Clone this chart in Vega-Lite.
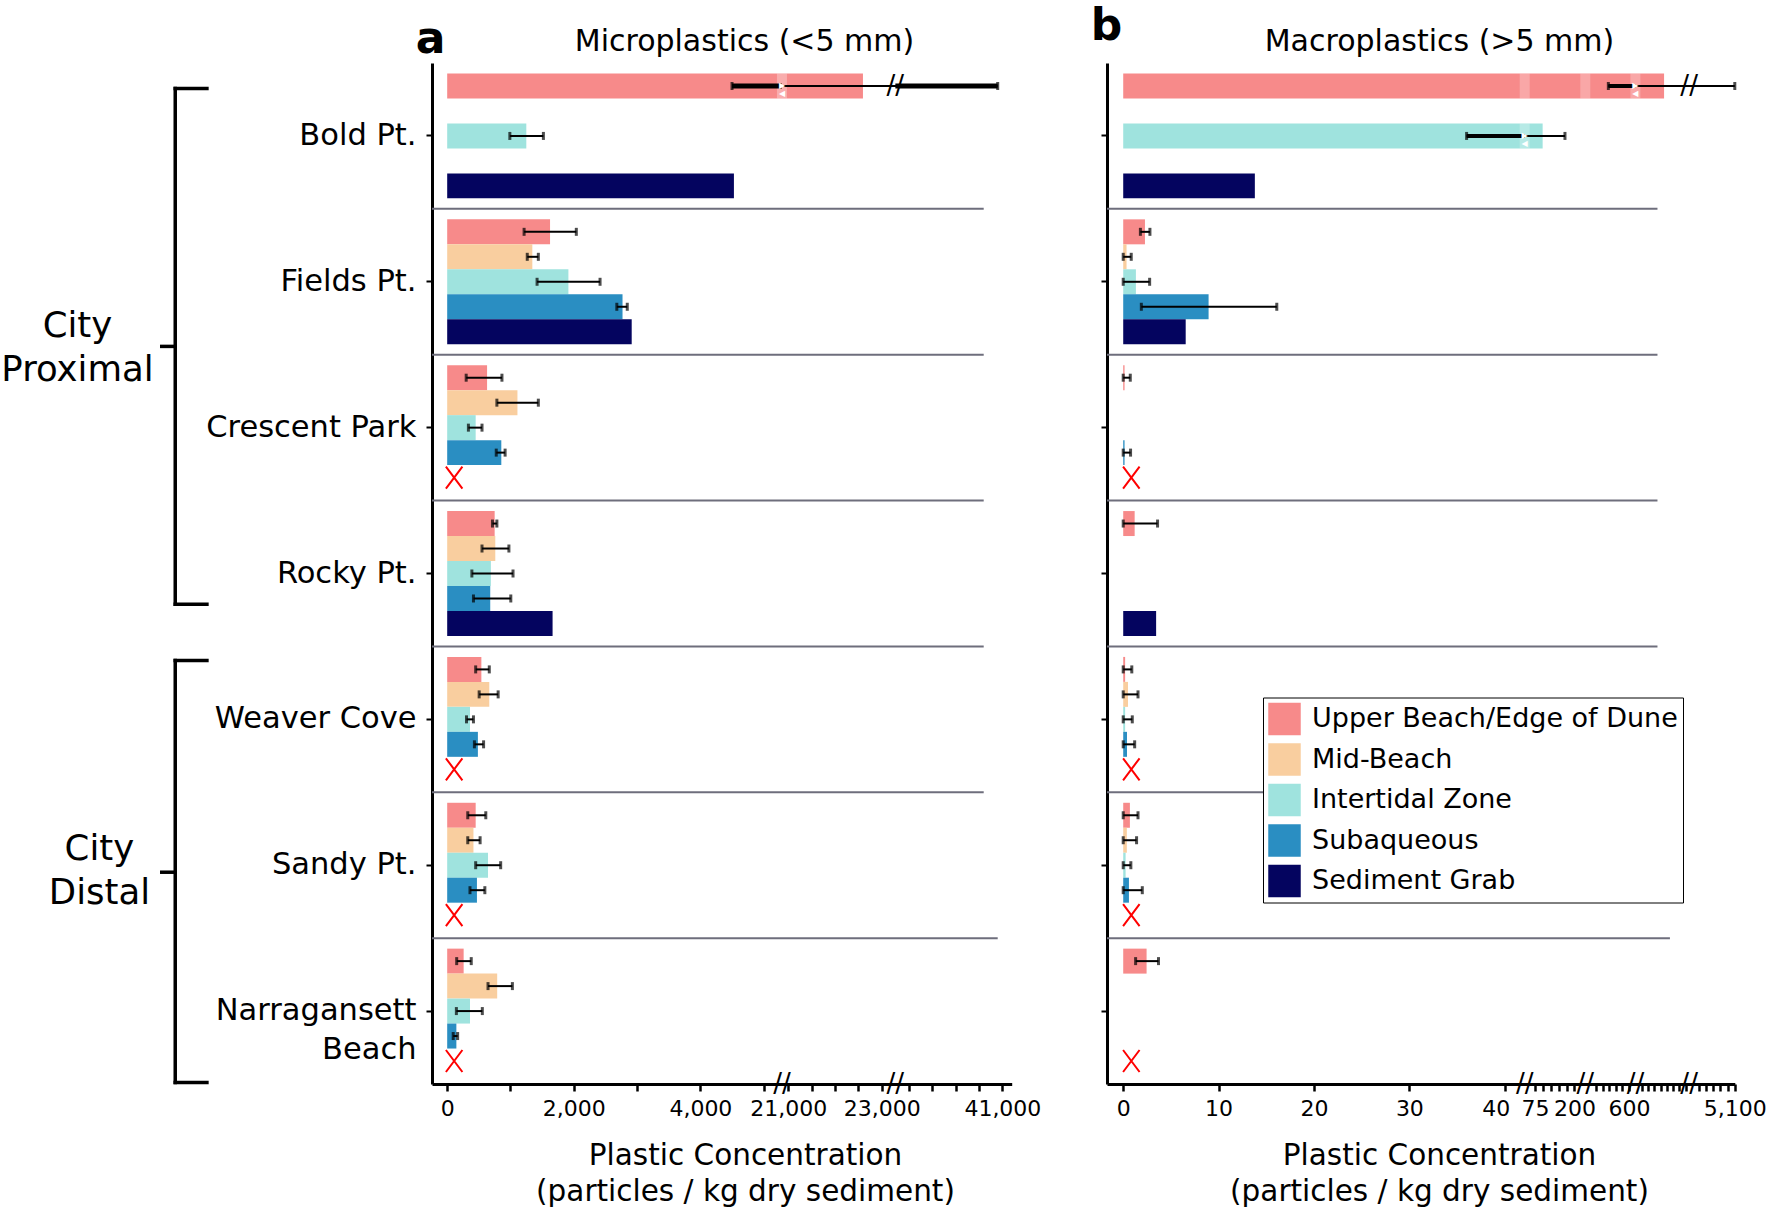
{
  "$schema": "https://vega.github.io/schema/vega-lite/v6.json",
  "background": "white",
  "padding": {"left": 0, "top": 4, "right": 10, "bottom": 4},
  "bounds": "flush",
  "spacing": 95,
  "config": {
    "font": "DejaVu Sans",
    "view": {"stroke": null},
    "axis": {"domainColor": "black", "tickColor": "black", "labelColor": "black", "titleColor": "black", "grid": false, "labelFont": "DejaVu Sans", "titleFont": "DejaVu Sans"},
    "legend": {"labelFont": "DejaVu Sans", "labelColor": "black"},
    "text": {"font": "DejaVu Sans"}
  },
  "resolve": {"scale": {"x": "independent", "y": "independent", "color": "independent"}, "axis": {"x": "independent", "y": "independent"}, "legend": {"color": "independent"}},
  "datasets": {
    "micro": [
      {"site": "Bold Pt.", "zone": "Upper Beach/Edge of Dune", "value": 22600, "low": 4500, "high": 40900},
      {"site": "Bold Pt.", "zone": "Intertidal Zone", "value": 1250, "low": 990, "high": 1520},
      {"site": "Bold Pt.", "zone": "Sediment Grab", "value": 4530, "low": null, "high": null},
      {"site": "Fields Pt.", "zone": "Upper Beach/Edge of Dune", "value": 1625, "low": 1215, "high": 2040},
      {"site": "Fields Pt.", "zone": "Mid-Beach", "value": 1345, "low": 1265, "high": 1440},
      {"site": "Fields Pt.", "zone": "Intertidal Zone", "value": 1915, "low": 1420, "high": 2415},
      {"site": "Fields Pt.", "zone": "Subaqueous", "value": 2770, "low": 2680, "high": 2845},
      {"site": "Fields Pt.", "zone": "Sediment Grab", "value": 2915, "low": null, "high": null},
      {"site": "Crescent Park", "zone": "Upper Beach/Edge of Dune", "value": 630, "low": 300, "high": 865},
      {"site": "Crescent Park", "zone": "Mid-Beach", "value": 1110, "low": 785, "high": 1440},
      {"site": "Crescent Park", "zone": "Intertidal Zone", "value": 450, "low": 335, "high": 550},
      {"site": "Crescent Park", "zone": "Subaqueous", "value": 855, "low": 775, "high": 915},
      {"site": "Rocky Pt.", "zone": "Upper Beach/Edge of Dune", "value": 750, "low": 715, "high": 785},
      {"site": "Rocky Pt.", "zone": "Mid-Beach", "value": 760, "low": 550, "high": 975},
      {"site": "Rocky Pt.", "zone": "Intertidal Zone", "value": 690, "low": 390, "high": 1040},
      {"site": "Rocky Pt.", "zone": "Subaqueous", "value": 680, "low": 415, "high": 1005},
      {"site": "Rocky Pt.", "zone": "Sediment Grab", "value": 1665, "low": null, "high": null},
      {"site": "Weaver Cove", "zone": "Upper Beach/Edge of Dune", "value": 540, "low": 450, "high": 665},
      {"site": "Weaver Cove", "zone": "Mid-Beach", "value": 665, "low": 505, "high": 805},
      {"site": "Weaver Cove", "zone": "Intertidal Zone", "value": 360, "low": 305, "high": 415},
      {"site": "Weaver Cove", "zone": "Subaqueous", "value": 485, "low": 430, "high": 575},
      {"site": "Sandy Pt.", "zone": "Upper Beach/Edge of Dune", "value": 450, "low": 325, "high": 610},
      {"site": "Sandy Pt.", "zone": "Mid-Beach", "value": 415, "low": 325, "high": 520},
      {"site": "Sandy Pt.", "zone": "Intertidal Zone", "value": 645, "low": 450, "high": 845},
      {"site": "Sandy Pt.", "zone": "Subaqueous", "value": 470, "low": 360, "high": 595},
      {"site": "Narragansett Beach", "zone": "Upper Beach/Edge of Dune", "value": 260, "low": 150, "high": 380},
      {"site": "Narragansett Beach", "zone": "Mid-Beach", "value": 790, "low": 645, "high": 1030},
      {"site": "Narragansett Beach", "zone": "Intertidal Zone", "value": 360, "low": 145, "high": 555},
      {"site": "Narragansett Beach", "zone": "Subaqueous", "value": 145, "low": 95, "high": 165}
    ],
    "macro": [
      {"site": "Bold Pt.", "zone": "Upper Beach/Edge of Dune", "value": 2480, "low": 380, "high": 5100},
      {"site": "Bold Pt.", "zone": "Intertidal Zone", "value": 99, "low": 36, "high": 170},
      {"site": "Bold Pt.", "zone": "Sediment Grab", "value": 13.8, "low": null, "high": null},
      {"site": "Fields Pt.", "zone": "Upper Beach/Edge of Dune", "value": 2.28, "low": 1.8, "high": 2.8},
      {"site": "Fields Pt.", "zone": "Mid-Beach", "value": 0.35, "low": 0, "high": 0.84},
      {"site": "Fields Pt.", "zone": "Intertidal Zone", "value": 1.33, "low": 0, "high": 2.77},
      {"site": "Fields Pt.", "zone": "Subaqueous", "value": 8.95, "low": 1.9, "high": 16.1},
      {"site": "Fields Pt.", "zone": "Sediment Grab", "value": 6.55, "low": null, "high": null},
      {"site": "Crescent Park", "zone": "Upper Beach/Edge of Dune", "value": 0.14, "low": 0, "high": 0.74},
      {"site": "Crescent Park", "zone": "Subaqueous", "value": 0.14, "low": 0, "high": 0.77},
      {"site": "Rocky Pt.", "zone": "Upper Beach/Edge of Dune", "value": 1.2, "low": 0, "high": 3.6},
      {"site": "Rocky Pt.", "zone": "Sediment Grab", "value": 3.45, "low": null, "high": null},
      {"site": "Weaver Cove", "zone": "Upper Beach/Edge of Dune", "value": 0.2, "low": 0, "high": 0.9},
      {"site": "Weaver Cove", "zone": "Mid-Beach", "value": 0.5, "low": 0, "high": 1.55},
      {"site": "Weaver Cove", "zone": "Intertidal Zone", "value": 0.2, "low": 0, "high": 0.95},
      {"site": "Weaver Cove", "zone": "Subaqueous", "value": 0.4, "low": 0, "high": 1.2},
      {"site": "Sandy Pt.", "zone": "Upper Beach/Edge of Dune", "value": 0.7, "low": 0, "high": 1.55},
      {"site": "Sandy Pt.", "zone": "Mid-Beach", "value": 0.38, "low": 0, "high": 1.4},
      {"site": "Sandy Pt.", "zone": "Intertidal Zone", "value": 0.25, "low": 0, "high": 0.8},
      {"site": "Sandy Pt.", "zone": "Subaqueous", "value": 0.6, "low": 0, "high": 2.0},
      {"site": "Narragansett Beach", "zone": "Upper Beach/Edge of Dune", "value": 2.45, "low": 1.3, "high": 3.7}
    ],
    "missing": [
      {"site": "Crescent Park", "zone": "Sediment Grab"},
      {"site": "Weaver Cove", "zone": "Sediment Grab"},
      {"site": "Sandy Pt.", "zone": "Sediment Grab"},
      {"site": "Narragansett Beach", "zone": "Sediment Grab"}
    ]
  },
  "hconcat": [
    {
      "width": 337,
      "height": 1021,
      "layer": [
        {
          "data": {"values": [
            {"x1": 52, "x2": 52, "y1": 0.175, "y2": 3.71},
            {"x1": 52, "x2": 61.4, "y1": 0.175, "y2": 0.175},
            {"x1": 52, "x2": 61.4, "y1": 3.71, "y2": 3.71},
            {"x1": 48, "x2": 52, "y1": 1.943, "y2": 1.943},
            {"x1": 52, "x2": 52, "y1": 4.097, "y2": 6.99},
            {"x1": 52, "x2": 61.4, "y1": 4.097, "y2": 4.097},
            {"x1": 52, "x2": 61.4, "y1": 6.99, "y2": 6.99},
            {"x1": 48, "x2": 52, "y1": 5.548, "y2": 5.548}
          ]},
          "mark": {"type": "rule", "color": "black", "strokeWidth": 3.5, "strokeCap": "square"},
          "encoding": {
            "x": {"field": "x1", "type": "quantitative", "scale": {"domain": [0, 100], "nice": false, "zero": false}, "axis": null},
            "x2": {"field": "x2"},
            "y": {"field": "y1", "type": "quantitative", "scale": {"domain": [0, 7], "reverse": true, "nice": false, "zero": false}, "axis": null},
            "y2": {"field": "y2"}
          }
        },
        {
          "data": {"values": [
            {"label": "City Proximal", "x": 23.0, "y": 1.8},
            {"label": "City Distal", "x": 29.5, "y": 5.39}
          ]},
          "mark": {"type": "text", "fontSize": 35.5, "lineBreak": " ", "lineHeight": 44, "align": "center", "baseline": "middle", "color": "black"},
          "encoding": {
            "x": {"field": "x", "type": "quantitative", "scale": {"domain": [0, 100], "nice": false, "zero": false}, "axis": null},
            "y": {"field": "y", "type": "quantitative", "scale": {"domain": [0, 7], "reverse": true, "nice": false, "zero": false}, "axis": null},
            "text": {"field": "label"}
          }
        }
      ]
    },
    {
      "width": 580,
      "height": 1021,
      "resolve": {"axis": {"x": "independent", "y": "independent"}},
      "layer": [
        {
          "data": {"values": [
            {"site": "Fields Pt.", "x1": -240, "x2": 40600},
            {"site": "Crescent Park", "x1": -240, "x2": 40600},
            {"site": "Rocky Pt.", "x1": -240, "x2": 40600},
            {"site": "Weaver Cove", "x1": -240, "x2": 40600},
            {"site": "Sandy Pt.", "x1": -240, "x2": 40600},
            {"site": "Narragansett Beach", "x1": -240, "x2": 40900}
          ]},
          "mark": {"type": "rule", "color": "#6e6e7c", "strokeWidth": 2},
          "encoding": {
            "x": {"field": "x1", "type": "quantitative", "scale": {"type": "linear", "domain": [-240, 5100, 20900, 23100, 38900, 41200], "range": [0, 338, 351.6, 454.3, 472.4, 579.7], "zero": false, "nice": false}, "axis": null},
            "x2": {"field": "x2"},
            "y": {"field": "site", "type": "nominal", "bandPosition": 0, "scale": {"domain": ["Bold Pt.", "Fields Pt.", "Crescent Park", "Rocky Pt.", "Weaver Cove", "Sandy Pt.", "Narragansett Beach"], "paddingInner": 0, "paddingOuter": 0}, "axis": null}
          }
        },
        {
          "data": {"name": "micro"},
          "mark": {"type": "bar"},
          "encoding": {
            "x": {"field": "value", "type": "quantitative", "scale": {"type": "linear", "domain": [-240, 5100, 20900, 23100, 38900, 41200], "range": [0, 338, 351.6, 454.3, 472.4, 579.7], "zero": false, "nice": false},
              "axis": {"orient": "bottom", "values": [0, 1000, 2000, 3000, 4000, 5000, 21000, 21500, 22000, 22500, 23000, 39000, 39500, 40000, 40500, 41000],
                "labelExpr": "indexof([0,2000,4000,21000,23000,41000], datum.value) >= 0 ? format(datum.value, ',') : ''",
                "labelFontSize": 22, "labelFlush": false, "labelOverlap": false, "tickSize": 7, "tickWidth": 2.5, "domainWidth": 3, "labelPadding": 7,
                "title": ["Plastic Concentration", "(particles / kg dry sediment)"], "titleFontSize": 29.5, "titleFontWeight": "normal", "titleX": 313, "titleY": 80, "titleAlign": "center", "titleBaseline": "alphabetic", "titleLineHeight": 36.5}},
            "x2": {"datum": 0},
            "y": {"field": "site", "type": "nominal", "scale": {"domain": ["Bold Pt.", "Fields Pt.", "Crescent Park", "Rocky Pt.", "Weaver Cove", "Sandy Pt.", "Narragansett Beach"], "paddingInner": 0, "paddingOuter": 0},
              "axis": {"orient": "left", "title": "a", "titleFontSize": 44, "titleFontWeight": "bold", "titleAngle": 0, "titleAlign": "center", "titleBaseline": "alphabetic", "titleX": -2, "titleY": -11,
                "labelFontSize": 30.5, "labelPadding": 10, "tickSize": 6, "tickWidth": 2, "domainWidth": 3, "labelLineHeight": 39, "labelLimit": 400,
                "labelExpr": "datum.value == 'Narragansett Beach' ? ['Narragansett', 'Beach'] : datum.label"}},
            "yOffset": {"field": "zone", "type": "nominal", "scale": {"domain": ["Upper Beach/Edge of Dune", "Mid-Beach", "Intertidal Zone", "Subaqueous", "Sediment Grab"], "paddingInner": 0, "paddingOuter": 0.42}},
            "color": {"field": "zone", "type": "nominal", "scale": {"domain": ["Upper Beach/Edge of Dune", "Mid-Beach", "Intertidal Zone", "Subaqueous", "Sediment Grab"], "range": ["#F78A8A", "#F9CE9F", "#9FE3DE", "#2A8EC2", "#04045F"]}, "legend": null}
          }
        },
        {
          "data": {"values": [
            {"site": "Bold Pt.", "zone": "Upper Beach/Edge of Dune", "x": 19000}
          ]},
          "mark": {"type": "tick", "color": "white", "opacity": 0.3, "thickness": 10, "size": 25},
          "encoding": {
            "x": {"field": "x", "type": "quantitative", "scale": {"type": "linear", "domain": [-240, 5100, 20900, 23100, 38900, 41200], "range": [0, 338, 351.6, 454.3, 472.4, 579.7], "zero": false, "nice": false}, "axis": null},
            "y": {"field": "site", "type": "nominal", "scale": {"domain": ["Bold Pt.", "Fields Pt.", "Crescent Park", "Rocky Pt.", "Weaver Cove", "Sandy Pt.", "Narragansett Beach"], "paddingInner": 0, "paddingOuter": 0}, "axis": null},
            "yOffset": {"field": "zone", "type": "nominal", "scale": {"domain": ["Upper Beach/Edge of Dune", "Mid-Beach", "Intertidal Zone", "Subaqueous", "Sediment Grab"], "paddingInner": 0, "paddingOuter": 0.42}}
          }
        },
        {
          "data": {"name": "micro"},
          "transform": [{"filter": "isValid(datum.low)"}],
          "mark": {"type": "rule", "color": "black", "strokeWidth": 2},
          "encoding": {
            "x": {"field": "low", "type": "quantitative", "scale": {"type": "linear", "domain": [-240, 5100, 20900, 23100, 38900, 41200], "range": [0, 338, 351.6, 454.3, 472.4, 579.7], "zero": false, "nice": false},
              "axis": {"orient": "top", "title": "Microplastics (<5 mm)", "labels": false, "ticks": false, "domain": false, "grid": false, "titleFontSize": 30, "titleFontWeight": "normal", "titleX": 312, "titleY": -13, "titleAlign": "center", "titleBaseline": "alphabetic"}},
            "x2": {"field": "high"},
            "y": {"field": "site", "type": "nominal", "scale": {"domain": ["Bold Pt.", "Fields Pt.", "Crescent Park", "Rocky Pt.", "Weaver Cove", "Sandy Pt.", "Narragansett Beach"], "paddingInner": 0, "paddingOuter": 0}, "axis": null},
            "yOffset": {"field": "zone", "type": "nominal", "scale": {"domain": ["Upper Beach/Edge of Dune", "Mid-Beach", "Intertidal Zone", "Subaqueous", "Sediment Grab"], "paddingInner": 0, "paddingOuter": 0.42}}
          }
        },
        {
          "data": {"values": [
            {"site": "Bold Pt.", "zone": "Upper Beach/Edge of Dune", "from": 4500, "to": 19000},
            {"site": "Bold Pt.", "zone": "Upper Beach/Edge of Dune", "from": 31000, "to": 40900}
          ]},
          "mark": {"type": "rule", "color": "black", "strokeWidth": 5},
          "encoding": {
            "x": {"field": "from", "type": "quantitative", "scale": {"type": "linear", "domain": [-240, 5100, 20900, 23100, 38900, 41200], "range": [0, 338, 351.6, 454.3, 472.4, 579.7], "zero": false, "nice": false}, "axis": null},
            "x2": {"field": "to"},
            "y": {"field": "site", "type": "nominal", "scale": {"domain": ["Bold Pt.", "Fields Pt.", "Crescent Park", "Rocky Pt.", "Weaver Cove", "Sandy Pt.", "Narragansett Beach"], "paddingInner": 0, "paddingOuter": 0}, "axis": null},
            "yOffset": {"field": "zone", "type": "nominal", "scale": {"domain": ["Upper Beach/Edge of Dune", "Mid-Beach", "Intertidal Zone", "Subaqueous", "Sediment Grab"], "paddingInner": 0, "paddingOuter": 0.42}}
          }
        },
        {
          "data": {"name": "micro"},
          "transform": [{"filter": "isValid(datum.low)"}, {"fold": ["low", "high"], "as": ["end", "pos"]}],
          "mark": {"type": "tick", "color": "black", "thickness": 3, "size": 8},
          "encoding": {
            "x": {"field": "pos", "type": "quantitative", "scale": {"type": "linear", "domain": [-240, 5100, 20900, 23100, 38900, 41200], "range": [0, 338, 351.6, 454.3, 472.4, 579.7], "zero": false, "nice": false}, "axis": null},
            "y": {"field": "site", "type": "nominal", "scale": {"domain": ["Bold Pt.", "Fields Pt.", "Crescent Park", "Rocky Pt.", "Weaver Cove", "Sandy Pt.", "Narragansett Beach"], "paddingInner": 0, "paddingOuter": 0}, "axis": null},
            "yOffset": {"field": "zone", "type": "nominal", "scale": {"domain": ["Upper Beach/Edge of Dune", "Mid-Beach", "Intertidal Zone", "Subaqueous", "Sediment Grab"], "paddingInner": 0, "paddingOuter": 0.42}}
          }
        },
        {
          "data": {"values": [
            {"site": "Bold Pt.", "zone": "Upper Beach/Edge of Dune", "x": 19000}
          ]},
          "mark": {"type": "text", "text": "▶\n◀\n▶", "lineBreak": "\n", "fontSize": 8, "lineHeight": 8, "color": "white", "align": "center", "baseline": "middle"},
          "encoding": {
            "x": {"field": "x", "type": "quantitative", "scale": {"type": "linear", "domain": [-240, 5100, 20900, 23100, 38900, 41200], "range": [0, 338, 351.6, 454.3, 472.4, 579.7], "zero": false, "nice": false}, "axis": null},
            "y": {"field": "site", "type": "nominal", "scale": {"domain": ["Bold Pt.", "Fields Pt.", "Crescent Park", "Rocky Pt.", "Weaver Cove", "Sandy Pt.", "Narragansett Beach"], "paddingInner": 0, "paddingOuter": 0}, "axis": null},
            "yOffset": {"field": "zone", "type": "nominal", "scale": {"domain": ["Upper Beach/Edge of Dune", "Mid-Beach", "Intertidal Zone", "Subaqueous", "Sediment Grab"], "paddingInner": 0, "paddingOuter": 0.42}}
          }
        },
        {
          "data": {"values": [
            {"site": "Bold Pt.", "zone": "Upper Beach/Edge of Dune", "x": 31000}
          ]},
          "mark": {"type": "text", "text": "//", "fontSize": 26, "color": "black", "align": "center", "baseline": "middle"},
          "encoding": {
            "x": {"field": "x", "type": "quantitative", "scale": {"type": "linear", "domain": [-240, 5100, 20900, 23100, 38900, 41200], "range": [0, 338, 351.6, 454.3, 472.4, 579.7], "zero": false, "nice": false}, "axis": null},
            "y": {"field": "site", "type": "nominal", "scale": {"domain": ["Bold Pt.", "Fields Pt.", "Crescent Park", "Rocky Pt.", "Weaver Cove", "Sandy Pt.", "Narragansett Beach"], "paddingInner": 0, "paddingOuter": 0}, "axis": null},
            "yOffset": {"field": "zone", "type": "nominal", "scale": {"domain": ["Upper Beach/Edge of Dune", "Mid-Beach", "Intertidal Zone", "Subaqueous", "Sediment Grab"], "paddingInner": 0, "paddingOuter": 0.42}}
          }
        },
        {
          "data": {"name": "missing"},
          "mark": {"type": "point", "shape": "M-0.75,-1L0.75,1M0.75,-1L-0.75,1", "size": 484, "filled": false, "stroke": "#ff0000", "strokeWidth": 2, "opacity": 1},
          "encoding": {
            "x": {"datum": 110, "type": "quantitative", "scale": {"type": "linear", "domain": [-240, 5100, 20900, 23100, 38900, 41200], "range": [0, 338, 351.6, 454.3, 472.4, 579.7], "zero": false, "nice": false}, "axis": null},
            "y": {"field": "site", "type": "nominal", "scale": {"domain": ["Bold Pt.", "Fields Pt.", "Crescent Park", "Rocky Pt.", "Weaver Cove", "Sandy Pt.", "Narragansett Beach"], "paddingInner": 0, "paddingOuter": 0}, "axis": null},
            "yOffset": {"field": "zone", "type": "nominal", "scale": {"domain": ["Upper Beach/Edge of Dune", "Mid-Beach", "Intertidal Zone", "Subaqueous", "Sediment Grab"], "paddingInner": 0, "paddingOuter": 0.42}}
          }
        },
        {
          "data": {"values": [
            {"site": "Narragansett Beach", "x": 19000},
            {"site": "Narragansett Beach", "x": 31000}
          ]},
          "mark": {"type": "text", "text": "//", "fontSize": 26, "color": "black", "align": "center", "baseline": "middle"},
          "encoding": {
            "x": {"field": "x", "type": "quantitative", "scale": {"type": "linear", "domain": [-240, 5100, 20900, 23100, 38900, 41200], "range": [0, 338, 351.6, 454.3, 472.4, 579.7], "zero": false, "nice": false}, "axis": null},
            "y": {"field": "site", "type": "nominal", "bandPosition": 1, "scale": {"domain": ["Bold Pt.", "Fields Pt.", "Crescent Park", "Rocky Pt.", "Weaver Cove", "Sandy Pt.", "Narragansett Beach"], "paddingInner": 0, "paddingOuter": 0}, "axis": null}
          }
        }
      ]
    },
    {
      "width": 629,
      "height": 1021,
      "resolve": {"axis": {"x": "independent", "y": "independent"}},
      "layer": [
        {
          "data": {"values": [
            {"site": "Fields Pt.", "x1": -1.7, "x2": 1950},
            {"site": "Crescent Park", "x1": -1.7, "x2": 1950},
            {"site": "Rocky Pt.", "x1": -1.7, "x2": 1950},
            {"site": "Weaver Cove", "x1": -1.7, "x2": 1950},
            {"site": "Sandy Pt.", "x1": -1.7, "x2": 1950},
            {"site": "Narragansett Beach", "x1": -1.7, "x2": 2950}
          ]},
          "mark": {"type": "rule", "color": "#6e6e7c", "strokeWidth": 2},
          "encoding": {
            "x": {"field": "x1", "type": "quantitative", "scale": {"type": "linear", "domain": [-1.7, 41, 75, 200, 250, 600, 700, 4200, 4700, 5100], "range": [0, 407.3, 428.1, 467.4, 489.2, 521.9, 534.9, 578.5, 591.5, 627.8], "zero": false, "nice": false}, "axis": null},
            "x2": {"field": "x2"},
            "y": {"field": "site", "type": "nominal", "bandPosition": 0, "scale": {"domain": ["Bold Pt.", "Fields Pt.", "Crescent Park", "Rocky Pt.", "Weaver Cove", "Sandy Pt.", "Narragansett Beach"], "paddingInner": 0, "paddingOuter": 0}, "axis": null}
          }
        },
        {
          "data": {"name": "macro"},
          "mark": {"type": "bar"},
          "encoding": {
            "x": {"field": "value", "type": "quantitative", "scale": {"type": "linear", "domain": [-1.7, 41, 75, 200, 250, 600, 700, 4200, 4700, 5100], "range": [0, 407.3, 428.1, 467.4, 489.2, 521.9, 534.9, 578.5, 591.5, 627.8], "zero": false, "nice": false},
              "axis": {"orient": "bottom", "values": [0, 10, 20, 30, 40, 75, 100, 125, 150, 175, 200, 250, 320, 390, 460, 530, 600, 700, 1200, 1700, 2200, 2700, 3200, 3700, 4200, 4700, 4780, 4860, 4940, 5020, 5100],
                "labelExpr": "indexof([0,10,20,30,40,75,200,600,5100], datum.value) >= 0 ? format(datum.value, ',') : ''",
                "labelOffset": {"condition": {"test": "datum.value == 40", "value": -9}, "value": 0},
                "labelFontSize": 22, "labelFlush": false, "labelOverlap": false, "tickSize": 7, "tickWidth": 2.5, "domainWidth": 3, "labelPadding": 7,
                "title": ["Plastic Concentration", "(particles / kg dry sediment)"], "titleFontSize": 29.5, "titleFontWeight": "normal", "titleX": 332, "titleY": 80, "titleAlign": "center", "titleBaseline": "alphabetic", "titleLineHeight": 36.5}},
            "x2": {"datum": 0},
            "y": {"field": "site", "type": "nominal", "scale": {"domain": ["Bold Pt.", "Fields Pt.", "Crescent Park", "Rocky Pt.", "Weaver Cove", "Sandy Pt.", "Narragansett Beach"], "paddingInner": 0, "paddingOuter": 0},
              "axis": {"orient": "left", "title": "b", "titleFontSize": 44, "titleFontWeight": "bold", "titleAngle": 0, "titleAlign": "center", "titleBaseline": "alphabetic", "titleX": -1, "titleY": -24,
                "labels": false, "tickSize": 6, "tickWidth": 2, "domainWidth": 3}},
            "yOffset": {"field": "zone", "type": "nominal", "scale": {"domain": ["Upper Beach/Edge of Dune", "Mid-Beach", "Intertidal Zone", "Subaqueous", "Sediment Grab"], "paddingInner": 0, "paddingOuter": 0.42}},
            "color": {"field": "zone", "type": "nominal", "scale": {"domain": ["Upper Beach/Edge of Dune", "Mid-Beach", "Intertidal Zone", "Subaqueous", "Sediment Grab"], "range": ["#F78A8A", "#F9CE9F", "#9FE3DE", "#2A8EC2", "#04045F"]},
              "legend": {"orient": "none", "legendX": 156, "legendY": 634.5, "title": null, "symbolType": "square", "symbolSize": 1056, "symbolStrokeWidth": 0, "labelFontSize": 27, "labelOffset": 11, "rowPadding": 7.5, "padding": 5, "strokeColor": "black", "fillColor": "white", "labelLimit": 600}}
          }
        },
        {
          "data": {"values": [
            {"site": "Bold Pt.", "zone": "Upper Beach/Edge of Dune", "x": 58},
            {"site": "Bold Pt.", "zone": "Upper Beach/Edge of Dune", "x": 225},
            {"site": "Bold Pt.", "zone": "Upper Beach/Edge of Dune", "x": 650},
            {"site": "Bold Pt.", "zone": "Intertidal Zone", "x": 58}
          ]},
          "mark": {"type": "tick", "color": "white", "opacity": 0.25, "thickness": 10, "size": 25},
          "encoding": {
            "x": {"field": "x", "type": "quantitative", "scale": {"type": "linear", "domain": [-1.7, 41, 75, 200, 250, 600, 700, 4200, 4700, 5100], "range": [0, 407.3, 428.1, 467.4, 489.2, 521.9, 534.9, 578.5, 591.5, 627.8], "zero": false, "nice": false}, "axis": null},
            "y": {"field": "site", "type": "nominal", "scale": {"domain": ["Bold Pt.", "Fields Pt.", "Crescent Park", "Rocky Pt.", "Weaver Cove", "Sandy Pt.", "Narragansett Beach"], "paddingInner": 0, "paddingOuter": 0}, "axis": null},
            "yOffset": {"field": "zone", "type": "nominal", "scale": {"domain": ["Upper Beach/Edge of Dune", "Mid-Beach", "Intertidal Zone", "Subaqueous", "Sediment Grab"], "paddingInner": 0, "paddingOuter": 0.42}}
          }
        },
        {
          "data": {"name": "macro"},
          "transform": [{"filter": "isValid(datum.low)"}],
          "mark": {"type": "rule", "color": "black", "strokeWidth": 2},
          "encoding": {
            "x": {"field": "low", "type": "quantitative", "scale": {"type": "linear", "domain": [-1.7, 41, 75, 200, 250, 600, 700, 4200, 4700, 5100], "range": [0, 407.3, 428.1, 467.4, 489.2, 521.9, 534.9, 578.5, 591.5, 627.8], "zero": false, "nice": false},
              "axis": {"orient": "top", "title": "Macroplastics (>5 mm)", "labels": false, "ticks": false, "domain": false, "grid": false, "titleFontSize": 30, "titleFontWeight": "normal", "titleX": 332, "titleY": -13, "titleAlign": "center", "titleBaseline": "alphabetic"}},
            "x2": {"field": "high"},
            "y": {"field": "site", "type": "nominal", "scale": {"domain": ["Bold Pt.", "Fields Pt.", "Crescent Park", "Rocky Pt.", "Weaver Cove", "Sandy Pt.", "Narragansett Beach"], "paddingInner": 0, "paddingOuter": 0}, "axis": null},
            "yOffset": {"field": "zone", "type": "nominal", "scale": {"domain": ["Upper Beach/Edge of Dune", "Mid-Beach", "Intertidal Zone", "Subaqueous", "Sediment Grab"], "paddingInner": 0, "paddingOuter": 0.42}}
          }
        },
        {
          "data": {"values": [
            {"site": "Bold Pt.", "zone": "Upper Beach/Edge of Dune", "from": 380, "to": 650},
            {"site": "Bold Pt.", "zone": "Intertidal Zone", "from": 36, "to": 58}
          ]},
          "mark": {"type": "rule", "color": "black", "strokeWidth": 4},
          "encoding": {
            "x": {"field": "from", "type": "quantitative", "scale": {"type": "linear", "domain": [-1.7, 41, 75, 200, 250, 600, 700, 4200, 4700, 5100], "range": [0, 407.3, 428.1, 467.4, 489.2, 521.9, 534.9, 578.5, 591.5, 627.8], "zero": false, "nice": false}, "axis": null},
            "x2": {"field": "to"},
            "y": {"field": "site", "type": "nominal", "scale": {"domain": ["Bold Pt.", "Fields Pt.", "Crescent Park", "Rocky Pt.", "Weaver Cove", "Sandy Pt.", "Narragansett Beach"], "paddingInner": 0, "paddingOuter": 0}, "axis": null},
            "yOffset": {"field": "zone", "type": "nominal", "scale": {"domain": ["Upper Beach/Edge of Dune", "Mid-Beach", "Intertidal Zone", "Subaqueous", "Sediment Grab"], "paddingInner": 0, "paddingOuter": 0.42}}
          }
        },
        {
          "data": {"name": "macro"},
          "transform": [{"filter": "isValid(datum.low)"}, {"fold": ["low", "high"], "as": ["end", "pos"]}],
          "mark": {"type": "tick", "color": "black", "thickness": 3, "size": 8},
          "encoding": {
            "x": {"field": "pos", "type": "quantitative", "scale": {"type": "linear", "domain": [-1.7, 41, 75, 200, 250, 600, 700, 4200, 4700, 5100], "range": [0, 407.3, 428.1, 467.4, 489.2, 521.9, 534.9, 578.5, 591.5, 627.8], "zero": false, "nice": false}, "axis": null},
            "y": {"field": "site", "type": "nominal", "scale": {"domain": ["Bold Pt.", "Fields Pt.", "Crescent Park", "Rocky Pt.", "Weaver Cove", "Sandy Pt.", "Narragansett Beach"], "paddingInner": 0, "paddingOuter": 0}, "axis": null},
            "yOffset": {"field": "zone", "type": "nominal", "scale": {"domain": ["Upper Beach/Edge of Dune", "Mid-Beach", "Intertidal Zone", "Subaqueous", "Sediment Grab"], "paddingInner": 0, "paddingOuter": 0.42}}
          }
        },
        {
          "data": {"values": [
            {"site": "Bold Pt.", "zone": "Upper Beach/Edge of Dune", "x": 650},
            {"site": "Bold Pt.", "zone": "Intertidal Zone", "x": 58}
          ]},
          "mark": {"type": "text", "text": "▶\n◀\n▶", "lineBreak": "\n", "fontSize": 8, "lineHeight": 8, "color": "white", "align": "center", "baseline": "middle"},
          "encoding": {
            "x": {"field": "x", "type": "quantitative", "scale": {"type": "linear", "domain": [-1.7, 41, 75, 200, 250, 600, 700, 4200, 4700, 5100], "range": [0, 407.3, 428.1, 467.4, 489.2, 521.9, 534.9, 578.5, 591.5, 627.8], "zero": false, "nice": false}, "axis": null},
            "y": {"field": "site", "type": "nominal", "scale": {"domain": ["Bold Pt.", "Fields Pt.", "Crescent Park", "Rocky Pt.", "Weaver Cove", "Sandy Pt.", "Narragansett Beach"], "paddingInner": 0, "paddingOuter": 0}, "axis": null},
            "yOffset": {"field": "zone", "type": "nominal", "scale": {"domain": ["Upper Beach/Edge of Dune", "Mid-Beach", "Intertidal Zone", "Subaqueous", "Sediment Grab"], "paddingInner": 0, "paddingOuter": 0.42}}
          }
        },
        {
          "data": {"values": [
            {"site": "Bold Pt.", "zone": "Upper Beach/Edge of Dune", "x": 4340}
          ]},
          "mark": {"type": "text", "text": "//", "fontSize": 26, "color": "black", "align": "center", "baseline": "middle"},
          "encoding": {
            "x": {"field": "x", "type": "quantitative", "scale": {"type": "linear", "domain": [-1.7, 41, 75, 200, 250, 600, 700, 4200, 4700, 5100], "range": [0, 407.3, 428.1, 467.4, 489.2, 521.9, 534.9, 578.5, 591.5, 627.8], "zero": false, "nice": false}, "axis": null},
            "y": {"field": "site", "type": "nominal", "scale": {"domain": ["Bold Pt.", "Fields Pt.", "Crescent Park", "Rocky Pt.", "Weaver Cove", "Sandy Pt.", "Narragansett Beach"], "paddingInner": 0, "paddingOuter": 0}, "axis": null},
            "yOffset": {"field": "zone", "type": "nominal", "scale": {"domain": ["Upper Beach/Edge of Dune", "Mid-Beach", "Intertidal Zone", "Subaqueous", "Sediment Grab"], "paddingInner": 0, "paddingOuter": 0.42}}
          }
        },
        {
          "data": {"name": "missing"},
          "mark": {"type": "point", "shape": "M-0.75,-1L0.75,1M0.75,-1L-0.75,1", "size": 484, "filled": false, "stroke": "#ff0000", "strokeWidth": 2, "opacity": 1},
          "encoding": {
            "x": {"datum": 0.85, "type": "quantitative", "scale": {"type": "linear", "domain": [-1.7, 41, 75, 200, 250, 600, 700, 4200, 4700, 5100], "range": [0, 407.3, 428.1, 467.4, 489.2, 521.9, 534.9, 578.5, 591.5, 627.8], "zero": false, "nice": false}, "axis": null},
            "y": {"field": "site", "type": "nominal", "scale": {"domain": ["Bold Pt.", "Fields Pt.", "Crescent Park", "Rocky Pt.", "Weaver Cove", "Sandy Pt.", "Narragansett Beach"], "paddingInner": 0, "paddingOuter": 0}, "axis": null},
            "yOffset": {"field": "zone", "type": "nominal", "scale": {"domain": ["Upper Beach/Edge of Dune", "Mid-Beach", "Intertidal Zone", "Subaqueous", "Sediment Grab"], "paddingInner": 0, "paddingOuter": 0.42}}
          }
        },
        {
          "data": {"values": [
            {"site": "Narragansett Beach", "x": 58},
            {"site": "Narragansett Beach", "x": 225},
            {"site": "Narragansett Beach", "x": 650},
            {"site": "Narragansett Beach", "x": 4340}
          ]},
          "mark": {"type": "text", "text": "//", "fontSize": 26, "color": "black", "align": "center", "baseline": "middle"},
          "encoding": {
            "x": {"field": "x", "type": "quantitative", "scale": {"type": "linear", "domain": [-1.7, 41, 75, 200, 250, 600, 700, 4200, 4700, 5100], "range": [0, 407.3, 428.1, 467.4, 489.2, 521.9, 534.9, 578.5, 591.5, 627.8], "zero": false, "nice": false}, "axis": null},
            "y": {"field": "site", "type": "nominal", "bandPosition": 1, "scale": {"domain": ["Bold Pt.", "Fields Pt.", "Crescent Park", "Rocky Pt.", "Weaver Cove", "Sandy Pt.", "Narragansett Beach"], "paddingInner": 0, "paddingOuter": 0}, "axis": null}
          }
        }
      ]
    }
  ]
}
